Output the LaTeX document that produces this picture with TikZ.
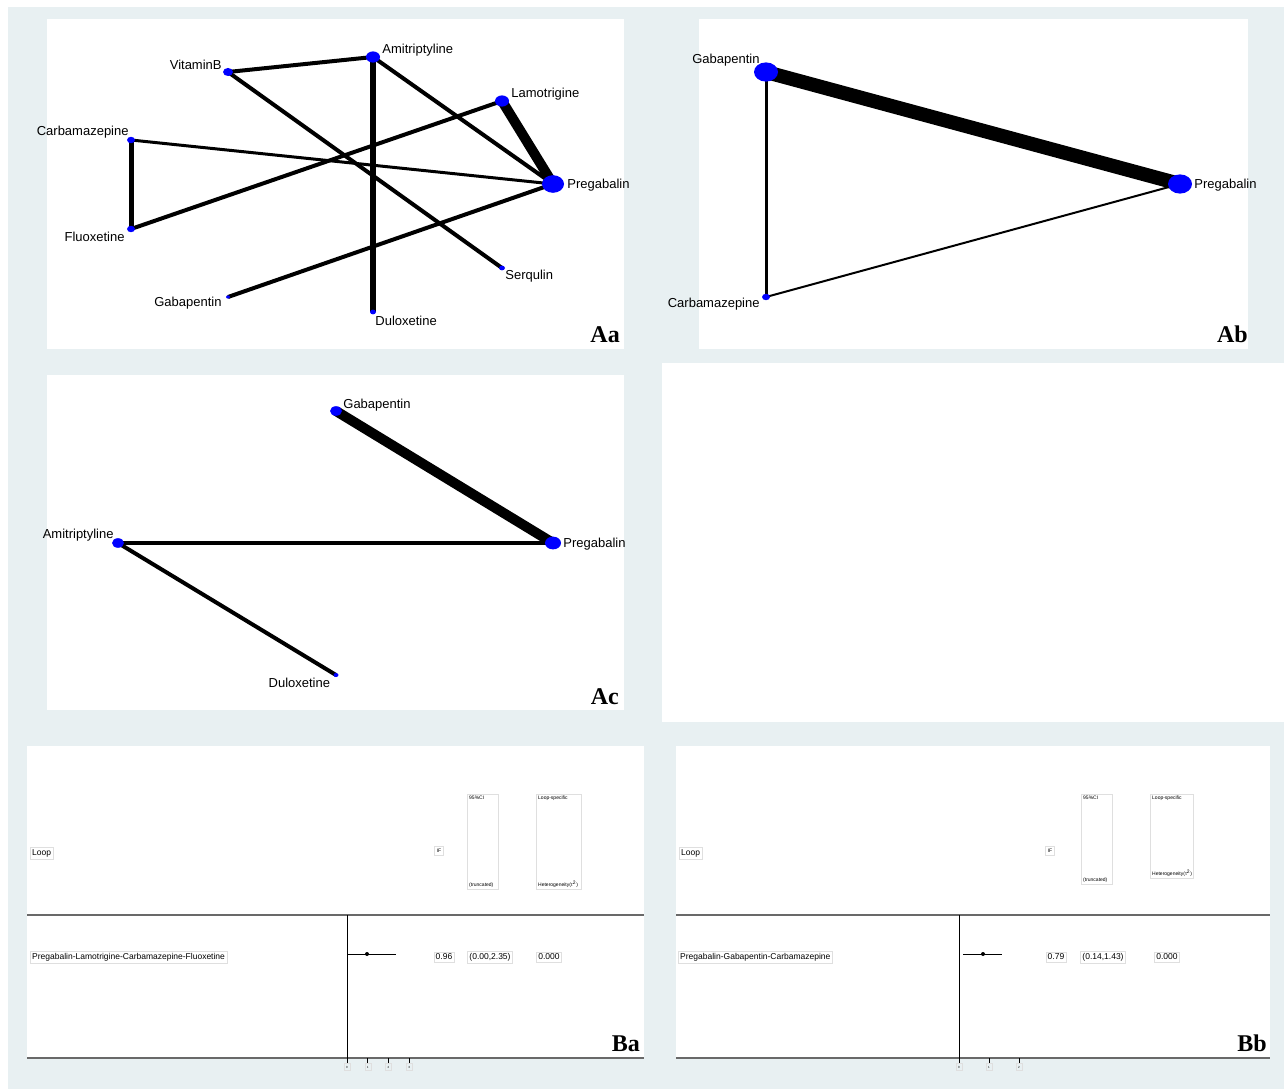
\documentclass[tikz,border=0pt]{standalone}
\usepackage{fontspec}
\setmainfont{Liberation Sans}
\newfontfamily\tagfont{Liberation Serif}
\usetikzlibrary{positioning, shapes.geometric}
\definecolor{netblue}{RGB}{0,0,255}
\definecolor{bgblue}{RGB}{232,240,242}
\definecolor{axisgray}{RGB}{105,105,105}
\pgfdeclarelayer{panel}
\pgfdeclarelayer{edge}
\pgfsetlayers{panel,edge,main}

\begin{document}
\begin{tikzpicture}[x=1pt, y=-1pt,
    drug/.style={ellipse, fill=netblue, inner sep=0pt,
                 minimum width=#1, minimum height=0.8*#1},
    lab/.style={font=\fontsize{13}{15}\selectfont, inner sep=1pt, yshift=-1.5pt},
    link/.style={line width=#1},
    tag/.style={font=\tagfont\bfseries\fontsize{24}{26}\selectfont,
                inner sep=0pt, anchor=south east},
    cell/.style={draw=gray!25, font=\fontsize{8.5}{10}\selectfont, inner sep=2pt},
    hcell/.style={draw=gray!25, font=\fontsize{5}{6}\selectfont, inner sep=1.5pt,
                  minimum size=9pt},
    hbox/.style={draw=gray!25, inner sep=0pt, anchor=north west},
    htext/.style={font=\fontsize{5}{6}\selectfont, inner sep=2pt},
    ticklab/.style={draw=gray!25, font=\fontsize{3}{3.5}\selectfont,
                    inner sep=1pt, minimum width=6pt, minimum height=7pt},
    est/.style={circle, fill=black, inner sep=0pt, minimum size=4pt},
    ci/.style={line width=1pt},
    rule/.style={axisgray, line width=1.5pt}
]
\useasboundingbox (0,0) rectangle (1288,1089);

% panels
\begin{pgfonlayer}{panel}
  \fill[bgblue] (8,7) rectangle (1284,1089);
  \fill[white] (47,19) rectangle (624,349);
  \fill[white] (699,19) rectangle (1248,349);
  \fill[white] (47,375) rectangle (624,710);
  \fill[white] (662,363) rectangle (1284,722);
  \fill[white] (27,746) rectangle (644,1058);
  \fill[white] (676,746) rectangle (1270,1058);
\end{pgfonlayer}

% Aa: full network
\node[drug=14pt] (amiA) at (373,57) {};
\node[drug=10pt] (vitA) at (228,72) {};
\node[drug=14pt] (lamA) at (502,101) {};
\node[drug=8pt]  (carA) at (131,140) {};
\node[drug=22pt] (preA) at (553,184) {};
\node[drug=8pt]  (fluA) at (131,229) {};
\node[drug=6pt]  (serA) at (502,268) {};
\node[drug=4pt]  (gabA) at (228,297) {};
\node[drug=6pt]  (dulA) at (373,312) {};

\node[lab, right=1pt of amiA, yshift=8pt] {Amitriptyline};
\node[lab, left=0pt of vitA, yshift=9pt] {VitaminB};
\node[lab, right=1pt of lamA, yshift=8pt] {Lamotrigine};
\node[lab, left=-3pt of carA, yshift=9pt] {Carbamazepine};
\node[lab, right=2pt of preA] {Pregabalin};
\node[lab, left=1pt of fluA, yshift=-6pt] {Fluoxetine};
\node[lab, right=-1pt of serA, yshift=-7pt] {Serqulin};
\node[lab, left=3pt of gabA, yshift=-5pt] {Gabapentin};
\node[lab, right=-2pt of dulA, yshift=-7pt] {Duloxetine};

\begin{pgfonlayer}{edge}
  \draw[link=4pt]   (vitA.center) -- (amiA.center);
  \draw[link=4pt]   (vitA.center) -- (serA.center);
  \draw[link=5.5pt] (amiA.center) -- (dulA.center);
  \draw[link=4pt]   (amiA.center) -- (preA.center);
  \draw[link=10pt]  (lamA.center) -- (preA.center);
  \draw[link=4pt]   (lamA.center) -- (fluA.center);
  \draw[link=3pt]   (carA.center) -- (preA.center);
  \draw[link=5pt]   (carA.center) -- (fluA.center);
  \draw[link=4pt]   (gabA.center) -- (preA.center);
\end{pgfonlayer}
\node[tag] (tagAa) at (620,343) {Aa};

% Ab: closed loop
\node[drug=24pt] (gabB) at (766,72) {};
\node[drug=24pt] (preB) at (1180,184) {};
\node[drug=8pt]  (carB) at (766,297) {};

\node[lab, left=-7pt of gabB, yshift=13pt] {Gabapentin};
\node[lab, right=1pt of preB] {Pregabalin};
\node[lab, left=1pt of carB, yshift=-6pt] {Carbamazepine};

\begin{pgfonlayer}{edge}
  \draw[link=14pt] (gabB.center) -- (preB.center);
  \draw[link=3pt]  (gabB.center) -- (carB.center);
  \draw[link=2pt]  (carB.center) -- (preB.center);
\end{pgfonlayer}
\node[tag] (tagAb) at (1248,343) {Ab};

% Ac: open network
\node[drug=12pt] (gabC) at (336,411) {};
\node[drug=16pt] (preC) at (553,543) {};
\node[drug=12pt] (amiC) at (118,543) {};
\node[drug=5pt]  (dulC) at (336,675) {};

\node[lab, right=0pt of gabC, yshift=7pt] {Gabapentin};
\node[lab, right=1pt of preC] {Pregabalin};
\node[lab, left=-3pt of amiC, yshift=9pt] {Amitriptyline};
\node[lab, left=2pt of dulC, yshift=-6pt] {Duloxetine};

\begin{pgfonlayer}{edge}
  \draw[link=10pt] (gabC.center) -- (preC.center);
  \draw[link=4pt]  (amiC.center) -- (preC.center);
  \draw[link=4pt]  (amiC.center) -- (dulC.center);
\end{pgfonlayer}
\node[tag] (tagAc) at (619,705) {Ac};

% Ba: inconsistency plot
\draw[rule] (27,915) -- (644,915);
\draw[rule] (27,1058) -- (644,1058);
\draw[line width=0.8pt] (347,915) -- (347,1058);
\foreach \v [count=\i from 0] in {0,1,2,3} {
  \draw[line width=0.6pt] ({347+20.7*\i},1058) -- ++(0,5);
  \node[ticklab] at ({347+20.7*\i},1067) {\v};
}
\node[cell, anchor=west] (loopA) at (30,853) {Loop};
\node[hcell] (ifA) at (439,851) {IF};
\node[hbox, minimum width=31pt, minimum height=95pt] (ciA) at (467,794) {};
\node[htext, anchor=north west] at (ciA.north west) {95\%CI};
\node[htext, anchor=south west] at (ciA.south west) {(truncated)};
\node[hbox, minimum width=45pt, minimum height=95pt] (hetA) at (536,794) {};
\node[htext, anchor=north west] at (hetA.north west) {Loop-specific};
\node[htext, anchor=south west] at (hetA.south west) {Heterogeneity(τ\textsuperscript{2})};

\node[cell, anchor=west] (rowA) at (30,957) {Pregabalin-Lamotrigine-Carbamazepine-Fluoxetine};
\node[cell] (ifvA) at (444,957) {0.96};
\node[cell] (civA) at (490,957) {(0.00,2.35)};
\node[cell] (hetvA) at (549,957) {0.000};
\coordinate (loA) at (347,954);
\coordinate (hiA) at (396,954);
\draw[ci] (loA) -- (hiA);
\node[est] (ptA) at (367,954) {};
\node[tag] (tagBa) at (640,1052) {Ba};

% Bb: inconsistency plot
\draw[rule] (676,915) -- (1270,915);
\draw[rule] (676,1058) -- (1270,1058);
\draw[line width=0.8pt] (959,915) -- (959,1058);
\foreach \v [count=\i from 0] in {0,1,2} {
  \draw[line width=0.6pt] ({959+30*\i},1058) -- ++(0,5);
  \node[ticklab] at ({959+30*\i},1067) {\v};
}
\node[cell, anchor=west] (loopB) at (679,853) {Loop};
\node[hcell] (ifB) at (1050,851) {IF};
\node[hbox, minimum width=31pt, minimum height=90pt] (ciB) at (1081,794) {};
\node[htext, anchor=north west] at (ciB.north west) {95\%CI};
\node[htext, anchor=south west] at (ciB.south west) {(truncated)};
\node[hbox, minimum width=43pt, minimum height=84pt] (hetB) at (1150,794) {};
\node[htext, anchor=north west] at (hetB.north west) {Loop-specific};
\node[htext, anchor=south west] at (hetB.south west) {Heterogeneity(τ\textsuperscript{2})};

\node[cell, anchor=west] (rowB) at (678,957) {Pregabalin-Gabapentin-Carbamazepine};
\node[cell] (ifvB) at (1056,957) {0.79};
\node[cell] (civB) at (1103,957) {(0.14,1.43)};
\node[cell] (hetvB) at (1167,957) {0.000};
\coordinate (loB) at (963,954);
\coordinate (hiB) at (1002,954);
\draw[ci] (loB) -- (hiB);
\node[est] (ptB) at (983,954) {};
\node[tag] (tagBb) at (1267,1052) {Bb};
\end{tikzpicture}
\end{document}
